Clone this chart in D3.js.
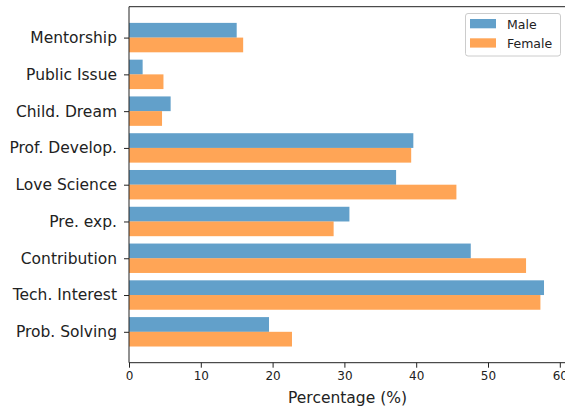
<!DOCTYPE html>
<html>
<head>
<meta charset="utf-8">
<script src="https://cdn.jsdelivr.net/npm/d3@7"></script>
<style>
  html, body { margin: 0; padding: 0; background: #fff; }
  svg text { font-family: "DejaVu Sans", sans-serif; fill: #222; }
</style>
</head>
<body>
<svg id="chart" width="565" height="410"></svg>
<script>
// Categories listed from bottom (index 0) to top
const categories = ["Prob. Solving", "Tech. Interest", "Contribution", "Pre. exp.", "Love Science",
                    "Prof. Develop.", "Child. Dream", "Public Issue", "Mentorship"];
const maleValues   = [19.5, 57.8, 47.6, 30.7, 37.2, 39.6, 5.8, 1.9, 15.0];
const femaleValues = [22.7, 57.3, 55.3, 28.5, 45.6, 39.3, 4.6, 4.8, 15.9];
const xTicks = [0, 10, 20, 30, 40, 50, 60];
const seriesNames = ["Male", "Female"];
const seriesColors = ["#1f77b4", "#ff7f0e"];

(function () {
const svg = d3.select("#chart");
const mLeft = 129, mTop = 6.7, mBottom = 362.7;
const x = d3.scaleLinear().domain([0, 60.9]).range([mLeft, mLeft + 60.9 * 7.18]);
const y = d3.scaleLinear().domain([-0.84, 8.84]).range([mBottom, mTop]);
const barH = 0.4;

const data = categories.map((c, i) => ({c, i, m: maleValues[i], f: femaleValues[i]}));

// Bars
const g = svg.append("g");
g.selectAll("rect.male").data(data).enter().append("rect")
  .attr("class", "male")
  .attr("x", x(0))
  .attr("y", d => y(d.i + barH))
  .attr("width", d => x(d.m) - x(0))
  .attr("height", d => y(d.i) - y(d.i + barH))
  .attr("fill", seriesColors[0]).attr("fill-opacity", 0.7);
g.selectAll("rect.female").data(data).enter().append("rect")
  .attr("class", "female")
  .attr("x", x(0))
  .attr("y", d => y(d.i))
  .attr("width", d => x(d.f) - x(0))
  .attr("height", d => y(d.i - barH) - y(d.i))
  .attr("fill", seriesColors[1]).attr("fill-opacity", 0.7);

// Spines
svg.append("line").attr("x1", mLeft).attr("x2", mLeft).attr("y1", mTop).attr("y2", mBottom)
  .attr("stroke", "#222").attr("stroke-width", 1);
svg.append("line").attr("x1", mLeft).attr("x2", 570).attr("y1", mTop).attr("y2", mTop)
  .attr("stroke", "#222").attr("stroke-width", 1);

// X axis
const xAxis = svg.append("g").attr("transform", `translate(0,${mBottom})`)
  .call(d3.axisBottom(x).tickValues(xTicks).tickSize(5).tickPadding(3.5).tickFormat(d3.format("d")));
xAxis.select(".domain").attr("stroke", "#222").attr("d", `M${mLeft},0H570`);
xAxis.selectAll(".tick line").attr("stroke", "#222");
xAxis.selectAll("text").style("font-size", "12px").attr("fill", "#222");

// Y axis
const yAxis = svg.append("g").attr("transform", `translate(${mLeft},0)`)
  .call(d3.axisLeft(y).tickValues(d3.range(categories.length)).tickSize(5).tickPadding(7)
        .tickFormat(i => categories[i]));
yAxis.select(".domain").remove();
yAxis.selectAll(".tick line").attr("stroke", "#222");
yAxis.selectAll("text").style("font-size", "15.5px").attr("fill", "#222");

// X label
svg.append("text").attr("x", 347.5).attr("y", 402.5).attr("text-anchor", "middle")
  .style("font-size", "15.5px").text("Percentage (%)");

// Legend
const lg = svg.append("g");
lg.append("rect").attr("x", 465.5).attr("y", 13.5).attr("width", 95).attr("height", 42.5)
  .attr("rx", 2.5).attr("fill", "#fff").attr("fill-opacity", 0.8)
  .attr("stroke", "#ccc").attr("stroke-width", 1);
seriesNames.forEach((s, k) => {
  lg.append("rect").attr("x", 470).attr("y", 19 + k * 19.3).attr("width", 26).attr("height", 9.3)
    .attr("fill", seriesColors[k]).attr("fill-opacity", 0.7);
  lg.append("text").attr("x", 507).attr("y", 28.5 + k * 19.3)
    .style("font-size", "12.5px").text(s);
});
})();
</script>
</body>
</html>
